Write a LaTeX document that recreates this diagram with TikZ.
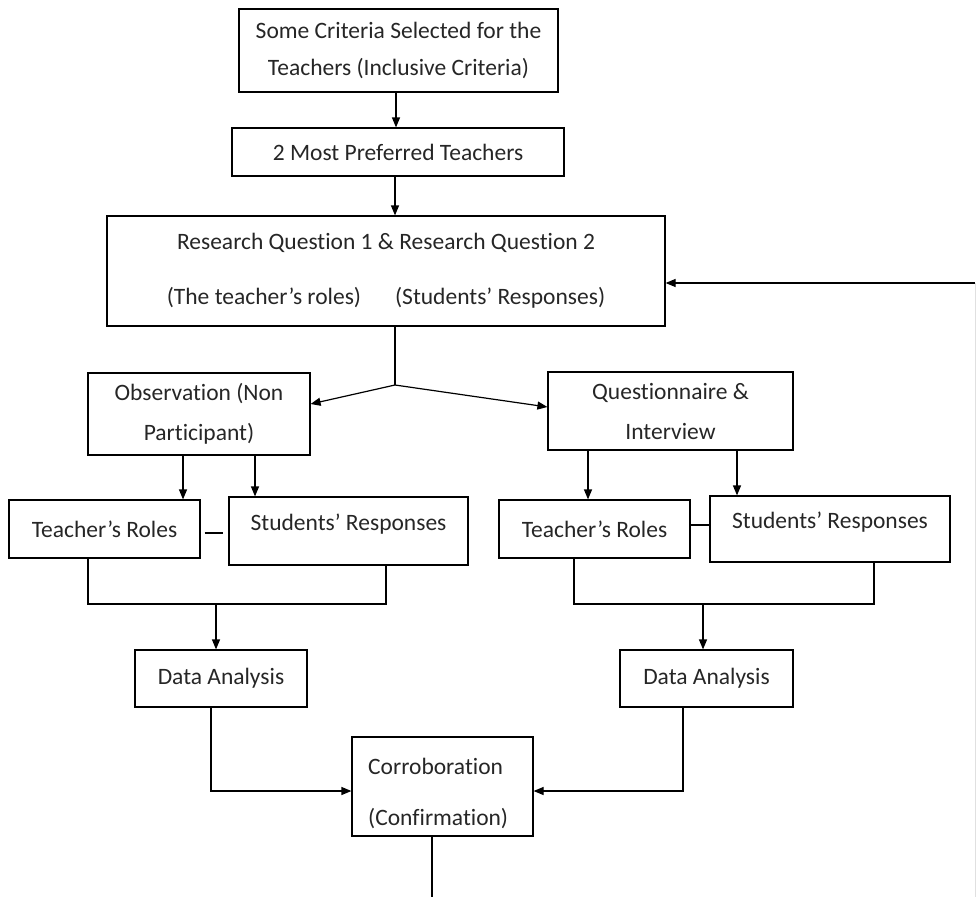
\documentclass[tikz,border=0pt]{standalone}
\usepackage{fontspec}
\setmainfont[Ligatures=NoCommon]{Carlito}
\usetikzlibrary{arrows.meta}
\begin{document}
\begin{tikzpicture}[x=1pt,y=-1pt,
  box/.style={draw, line width=1.2pt, inner sep=0pt, align=center,
    font=\fontsize{23.5}{37}\selectfont, text=black!85},
  txt/.style={inner sep=0pt, font=\fontsize{23.5}{28}\selectfont, text=black!85},
  conn/.style={line width=1.2pt},
  arr/.style={conn, -{Triangle[length=10pt,width=8pt]}}]
\useasboundingbox (0,0) rectangle (977,897);

% boxes
\node[box, minimum width=319, minimum height=83] (b1) at (398.5,50.5)
  {Some Criteria Selected for the\\Teachers (Inclusive Criteria)};
\node[box, minimum width=332, minimum height=48] (b2) at (398,152)
  {2 Most Preferred Teachers};
\node[box, minimum width=558, minimum height=110, font=\fontsize{23.5}{55}\selectfont] (b3) at (386,271)
  {Research Question 1 \& Research Question 2\\(The teacher’s roles)\hspace{34pt}(Students’ Responses)};
\node[box, minimum width=222, minimum height=82, font=\fontsize{23.5}{40}\selectfont] (obs) at (199,414)
  {Observation (Non\\Participant)};
\node[box, minimum width=245, minimum height=78, font=\fontsize{23.5}{40}\selectfont] (qi) at (670.5,411)
  {Questionnaire \&\\Interview};
\node[box, minimum width=191, minimum height=58] (tr1) at (104.5,529) {Teacher’s Roles};
\node[box, minimum width=239, minimum height=68] (sr1) at (348.5,531) {};
\node[txt] (sr1t) at (348.5,524) {Students’ Responses};
\node[box, minimum width=191, minimum height=58] (tr2) at (594.5,529) {Teacher’s Roles};
\node[box, minimum width=240, minimum height=66] (sr2) at (830,529) {};
\node[txt] (sr2t) at (830,522) {Students’ Responses};
\node[box, minimum width=172, minimum height=57] (da1) at (221,678.5) {Data Analysis};
\node[box, minimum width=173, minimum height=57] (da2) at (706.5,678.5) {Data Analysis};
\node[box, minimum width=181, minimum height=99] (co) at (442.5,786.5) {};
\node[txt, anchor=west] (co1) at (368,766) {Corroboration};
\node[txt, anchor=west] (co2) at (368,819) {(Confirmation)};

% helper coordinates
\coordinate (fb) at (975,283);
\coordinate (fbend) at (975,897);
\coordinate (sp) at (395,385);
\coordinate (a1) at (183,0);
\coordinate (a2) at (255,0);
\coordinate (a3) at (588,0);
\coordinate (a4) at (737,0);
\coordinate (bl1) at (88,604);
\coordinate (br1) at (386,604);
\coordinate (m1) at (216,604);
\coordinate (bl2) at (574,604);
\coordinate (br2) at (874,604);
\coordinate (m2) at (703,604);
\coordinate (c1) at (211,791);
\coordinate (c2) at (683,791);
\coordinate (bot) at (432,897);

% connectors
\draw[arr] (b1.south -| 396,0) -- (b2.north -| 396,0);
\draw[arr] (b2.south -| 395,0) -- (b3.north -| 395,0);
\draw[arr] (fb) -- (fb -| b3.east);
\draw[line width=0.8pt, black!12] (fb) -- (fbend);
\draw[conn] (b3.south -| sp) -- (sp);
\draw[arr] (sp) -- ([yshift=10pt]obs.east);
\draw[arr] (sp) -- ([yshift=4pt]qi.west);
\draw[arr] (obs.south -| a1) -- (tr1.north -| a1);
\draw[arr] (obs.south -| a2) -- (sr1.north -| a2);
\draw[arr] (qi.south -| a3) -- (tr2.north -| a3);
\draw[arr] (qi.south -| a4) -- (sr2.north -| a4);
\draw[conn] (tr1.east) ++(4,4) -- ++(18,0);
\draw[conn] (tr2.east) ++(0,-4) -- ++(20,0);
\draw[conn] (tr1.south -| bl1) -- (bl1) -- (br1) -- (sr1.south -| br1);
\draw[conn] (tr2.south -| bl2) -- (bl2) -- (br2) -- (sr2.south -| br2);
\draw[arr] (m1) -- (da1.north -| m1);
\draw[arr] (m2) -- (da2.north -| m2);
\draw[arr] (da1.south -| c1) -- (c1) -- (c1 -| co.west);
\draw[arr] (da2.south -| c2) -- (c2) -- (c2 -| co.east);
\draw[conn] (co.south -| bot) -- (bot);
\end{tikzpicture}
\end{document}
